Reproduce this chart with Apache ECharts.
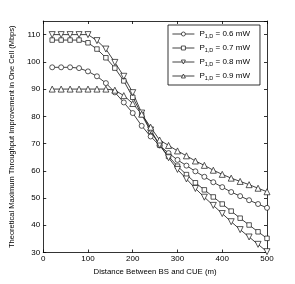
<!DOCTYPE html>
<html><head><meta charset="utf-8">
<script src="https://cdn.jsdelivr.net/npm/echarts@6/dist/echarts.min.js"></script>
<style>html,body{margin:0;padding:0;background:#fff}#c{width:295px;height:284px}</style>
</head><body><div id="c"></div>
<script>
const distances = [20,40,60,80,100,120,140,160,180,200,220,240,260,280,300,320,340,360,380,400,420,440,460,480,500];
const seriesNames = ['0.6','0.7','0.8','0.9'];
const p06 = [98,98,98,97.7,96.5,94.7,92.2,88.8,85.1,81.2,76.5,72.6,69.3,66.5,64,61.9,59.8,57.8,55.8,54,52.2,50.7,49.2,47.8,46.4];
const p07 = [108,108,108,108,107,104.7,101.5,97.7,93,87,80.6,74.5,69.5,65.3,61.7,58.6,55.6,53,50.4,47.8,45.2,42.6,40.1,37.6,35.2];
const p08 = [110,110,110,110,110,107.8,104.7,99.8,94.7,88.7,81.2,75,69.5,64.8,60.5,57,53.5,50.3,47.3,44.3,41.3,38.4,35.7,33,30.3];
const p09 = [90,90,90,90,90,90,90,89.6,87.6,84.7,80.8,76,71.3,69.3,67.3,65.5,63.6,62,60.2,58.7,57.3,56.1,54.9,53.6,52.3];
const xTicks = [0,100,200,300,400,500];
const yTicks = [30,40,50,60,70,80,90,100,110];

const values = [p06,p07,p08,p09];
const symbols = ['circle','rect','triangle','triangle'];
const rotations = [0,0,180,0];
const sizes = [5,4.5,6,6];
const FONT = 'Liberation Sans, Arial, sans-serif';

const chart = echarts.init(document.getElementById('c'), null, {renderer:'canvas'});
const axisCommon = {
  axisLine:{show:true, onZero:false, lineStyle:{color:'#000', width:0.8}},
  axisTick:{show:true, inside:true, length:3, lineStyle:{color:'#000', width:0.8}},
  splitLine:{show:false}
};
chart.setOption({
  animation:false,
  backgroundColor:'#fff',
  textStyle:{fontFamily:FONT},
  grid:{left:39, right:28, top:21, bottom:31.5, containLabel:false},
  xAxis:[
    Object.assign({type:'value', min:0, max:500, interval:100, position:'bottom',
      name:'Distance Between BS and CUE (m)', nameLocation:'middle', nameGap:12,
      nameTextStyle:{fontSize:7.8, color:'#000', fontFamily:FONT},
      axisLabel:{fontSize:8, color:'#000', margin:2, fontFamily:FONT}}, axisCommon),
    Object.assign({type:'value', min:0, max:500, interval:100, position:'top',
      axisLabel:{show:false}}, axisCommon)
  ],
  yAxis:[
    Object.assign({type:'value', min:30, max:115, interval:10, position:'left',
      name:'Theoretical Maximum Throughput Improvement in One Cell (Mbps)', nameLocation:'middle', nameGap:21,
      nameTextStyle:{fontSize:7.5, color:'#000', fontFamily:FONT},
      axisLabel:{fontSize:8, color:'#000', margin:3, showMaxLabel:false, fontFamily:FONT}}, axisCommon),
    Object.assign({type:'value', min:30, max:115, interval:10, position:'right',
      axisLabel:{show:false}}, axisCommon)
  ],
  legend:{
    orient:'vertical', left:168, top:25,
    data:seriesNames,
    itemWidth:22, itemHeight:5, itemGap:4,
    padding:[4,10,4,4],
    borderColor:'#000', borderWidth:0.8,
    backgroundColor:'#fff',
    lineStyle:{color:'#111', width:0.8},
    itemStyle:{color:'#fff', borderColor:'#111', borderWidth:0.7},
    textStyle:{color:'#000', fontFamily:FONT,
      rich:{
        p:{fontSize:8, color:'#000', fontFamily:FONT, lineHeight:10},
        s:{fontSize:5.5, color:'#000', fontFamily:FONT, padding:[4,0,0,0], lineHeight:10},
        t:{fontSize:8, color:'#000', fontFamily:FONT, lineHeight:10}
      }},
    formatter: n => '{p|P}{s|1,D}{t| = ' + n + ' mW}'
  },
  series: seriesNames.map((n,i)=>({
    name:n, type:'line',
    data: distances.map((d,j)=>[d, values[i][j]]),
    symbol: symbols[i], symbolSize: sizes[i], symbolRotate: rotations[i],
    showAllSymbol:true,
    lineStyle:{color:'#111', width:0.8},
    itemStyle:{color:'#fff', borderColor:'#111', borderWidth:0.7},
    emphasis:{disabled:true}
  }))
});
</script></body></html>
